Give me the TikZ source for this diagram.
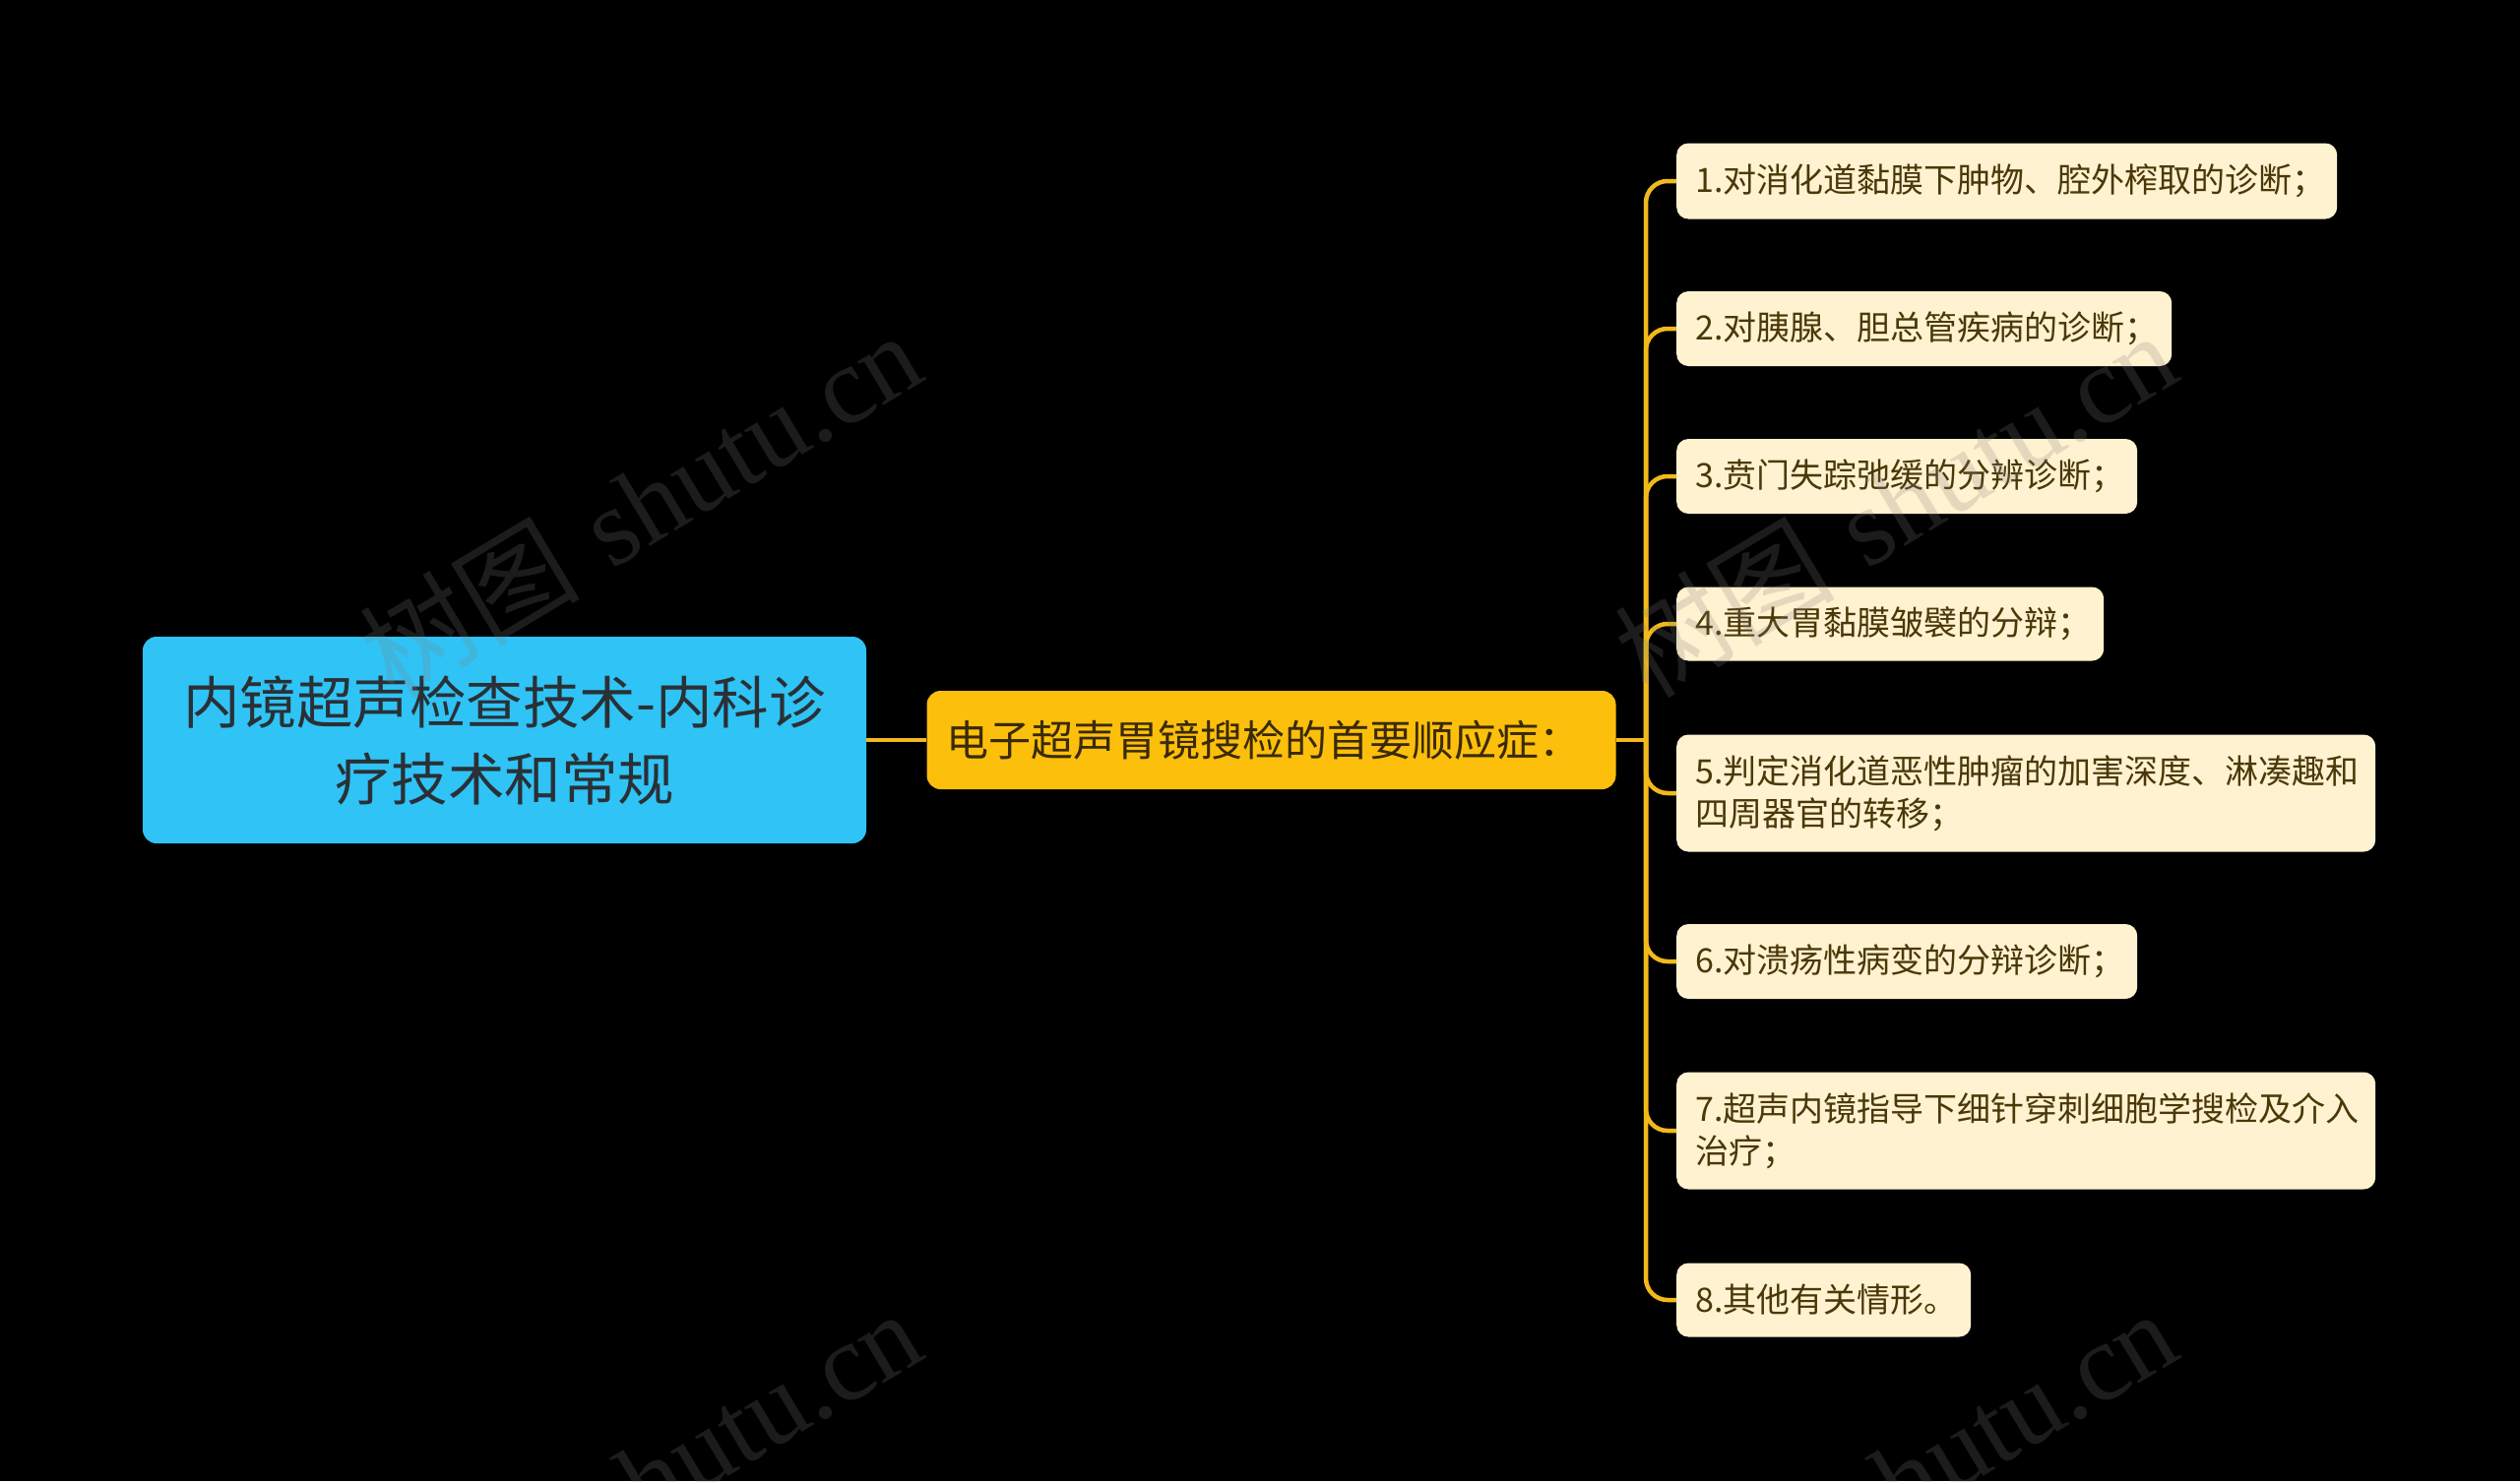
\documentclass[tikz,border=0pt]{standalone}
\usepackage{fontspec}
\newfontfamily\cjk{Noto Sans CJK SC}
\newfontfamily\wmserif{Liberation Serif}
\definecolor{rootcol}{HTML}{30C3F5}
\definecolor{midcol}{HTML}{FCBF0C}
\definecolor{leafcol}{HTML}{FFF2D0}
\definecolor{linecol}{HTML}{F2B91C}
\definecolor{roottext}{HTML}{2A3035}
\definecolor{midtext}{HTML}{3A2A05}
\definecolor{leaftext}{HTML}{4A3808}
\tikzset{
  rootbox/.style={fill=rootcol, rounded corners=14pt, minimum width=735pt, minimum height=210pt,
    align=center, text width=710pt, inner sep=0pt, text=roottext,
    font=\cjk\fontsize{57.5}{78}\selectfont},
  midbox/.style={fill=midcol, rounded corners=14pt, minimum width=695pt, minimum height=100pt,
    align=left, text width=660pt, inner xsep=20pt, inner ysep=0pt, text=midtext,
    font=\cjk\fontsize{43}{50}\selectfont},
  leafbox/.style={fill=leafcol, rounded corners=12pt, anchor=west, inner xsep=19pt, inner ysep=0pt,
    align=left, text=leaftext, font=\cjk\fontsize{34}{43}\selectfont},
  conn/.style={draw=linecol, line width=4.5pt},
  branch/.style={conn, rounded corners=22pt},
  wm/.style={text=gray, opacity=0.22, rotate=31, font=\fontsize{112}{116}\selectfont}
}
\begin{document}
\begin{tikzpicture}[x=1pt,y=-1pt]
\useasboundingbox (0,0) rectangle (2560,1505);
\fill[black] (0,0) rectangle (2560,1505);

\node[rootbox] (root) at (512.5,752) {内镜超声检查技术-内科诊\\疗技术和常规};
\node[midbox] (mid) at (1291.5,752) {电子超声胃镜搜检的首要顺应症：};

\node[leafbox, minimum height=77pt, text width=633pt] (l1) at (1703,184) {1.对消化道黏膜下肿物、腔外榨取的诊断；};
\node[leafbox, minimum height=76pt, text width=465pt] (l2) at (1703,334) {2.对胰腺、胆总管疾病的诊断；};
\node[leafbox, minimum height=76pt, text width=430pt] (l3) at (1703,484) {3.贲门失踪弛缓的分辨诊断；};
\node[leafbox, minimum height=75pt, text width=396pt] (l4) at (1703,634) {4.重大胃黏膜皱襞的分辩；};
\node[leafbox, minimum height=119pt, text width=672pt] (l5) at (1703,806) {5.判定消化道恶性肿瘤的加害深度、淋凑趣和\\四周器官的转移；};
\node[leafbox, minimum height=76pt, text width=430pt] (l6) at (1703,977) {6.对溃疡性病变的分辩诊断；};
\node[leafbox, minimum height=119pt, text width=672pt] (l7) at (1703,1149) {7.超声内镜指导下细针穿刺细胞学搜检及介入\\治疗；};
\node[leafbox, minimum height=75pt, text width=261pt] (l8) at (1703,1321) {8.其他有关情形。};

\coordinate (sp) at (1672,752);
\draw[conn] (root.east) -- (mid.west);
\draw[conn] (mid.east) -- (sp);
\foreach \n in {l1,l2,l3,l4,l5,l6,l7,l8}{
  \draw[branch] (sp) |- (\n.west);
}

\begin{scope}
\clip (0,0) rectangle (2560,1505);
\node[wm] (w1) at (650,512) {{\cjk 树图} {\wmserif shutu.cn}};
\node[wm] (w2) at (1925,512) {{\cjk 树图} {\wmserif shutu.cn}};
\node[wm] (w3) at (650,1505) {{\cjk 树图} {\wmserif shutu.cn}};
\node[wm] (w4) at (1925,1505) {{\cjk 树图} {\wmserif shutu.cn}};
\end{scope}
\end{tikzpicture}
\end{document}
